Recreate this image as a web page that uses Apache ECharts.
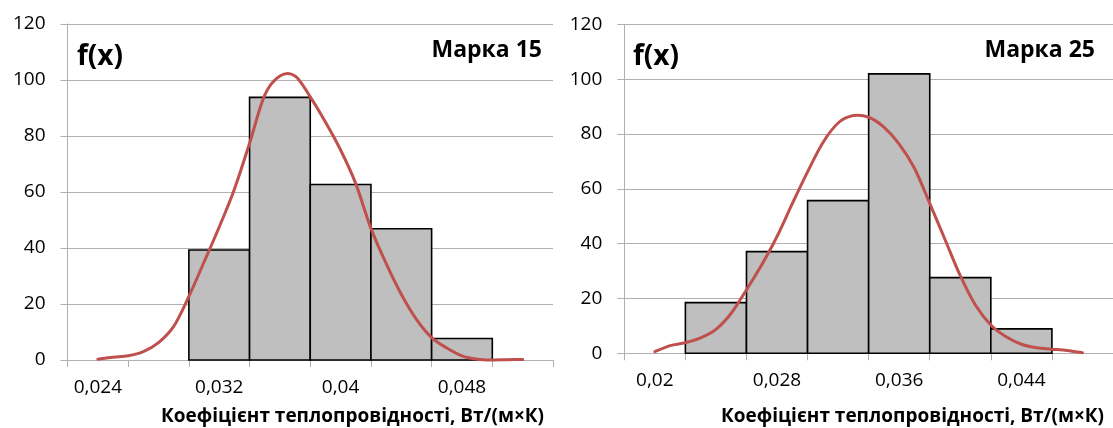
<!DOCTYPE html>
<html>
<head>
<meta charset="utf-8">
<script src="https://cdn.jsdelivr.net/npm/echarts@6/dist/echarts.min.js"></script>
<style>
  html, body { margin: 0; padding: 0; background: #fff; }
  #chart { width: 1113px; height: 428px; }
</style>
</head>
<body>
<div id="chart"></div>
<script>
// Марка 15
const catsLeft = ['0,024', '0,028', '0,032', '0,036', '0,04', '0,044', '0,048', '0,052'];
const barsLeft = [null, null, 39.3, 93.8, 62.7, 46.9, 7.7, null];
const curveLeftX = [0.024, 0.025, 0.026, 0.027, 0.028, 0.029, 0.030, 0.031, 0.032, 0.033,
  0.034, 0.035, 0.036, 0.037, 0.038, 0.039, 0.040, 0.041, 0.042, 0.043,
  0.044, 0.045, 0.046, 0.047, 0.048, 0.049, 0.050, 0.051, 0.052];
const curveLeftY = [0.3, 1.0, 1.5, 3.0, 6.2, 12, 22.7, 35, 47.5, 61,
  77.4, 94.6, 101.4, 101.4, 94, 85, 75, 63, 47, 34.5,
  23.5, 14.5, 8.0, 4.3, 1.5, 0.3, 0, 0.1, 0.2];

// Марка 25
const catsRight = ['0,02', '0,024', '0,028', '0,032', '0,036', '0,04', '0,044', '0,048'];
const barsRight = [null, 18.5, 37.1, 55.7, 101.9, 27.6, 8.9, null];
const curveRightX = [0.020, 0.021, 0.022, 0.023, 0.024, 0.025, 0.026, 0.027, 0.028, 0.029,
  0.030, 0.031, 0.032, 0.033, 0.034, 0.035, 0.036, 0.037, 0.038, 0.039,
  0.040, 0.041, 0.042, 0.043, 0.044, 0.045, 0.046, 0.047, 0.048];
const curveRightY = [0.6, 2.8, 3.9, 5.6, 8.7, 14.6, 23.2, 32.3, 42.6, 54.6,
  66.2, 76.8, 84.0, 86.7, 86.1, 82.5, 76.3, 67.5, 54.7, 41.5,
  28.3, 17.5, 10.3, 6.0, 3.3, 2.0, 1.5, 1.0, 0.2];

const yTicks = { min: 0, max: 120, interval: 20 };
const binWidth = 0.004;
const font = 'Open Sans';
const gray = '#b0b0b0';

const chart = echarts.init(document.getElementById('chart'));

const toNum = (s) => parseFloat(s.replace(',', '.'));

const catAxis = (gridIndex, data) => ({
  type: 'category',
  gridIndex,
  data,
  boundaryGap: true,
  axisLine: { lineStyle: { color: gray, width: 1 } },
  axisTick: { show: true, interval: 0, length: 7, lineStyle: { color: gray } },
  axisLabel: { interval: 1, margin: 18, color: '#000', fontSize: 19, fontFamily: font },
});

// hidden value axis lying exactly under the category axis (half a bin either side)
const hiddenX = (gridIndex, cats) => ({
  type: 'value',
  gridIndex,
  min: toNum(cats[0]) - binWidth / 2,
  max: toNum(cats[cats.length - 1]) + binWidth / 2,
  show: false,
  splitLine: { show: false },
});

const yAxis = (gridIndex) => ({
  type: 'value',
  gridIndex,
  ...yTicks,
  axisLine: { show: true, lineStyle: { color: gray } },
  axisTick: { show: true, length: 7, lineStyle: { color: gray } },
  splitLine: { lineStyle: { color: gray } },
  axisLabel: { margin: 22, color: '#000', fontSize: 19, fontFamily: font },
});

// histogram bins, edge to edge
const bars = (idx, cats, vals) => ({
  type: 'custom',
  xAxisIndex: idx * 2 + 1,
  yAxisIndex: idx,
  data: cats.map((c, i) => [toNum(c), vals[i]]).filter((d) => d[1] != null),
  renderItem: (params, api) => {
    const x = api.value(0);
    const p0 = api.coord([x - binWidth / 2, api.value(1)]);
    const p1 = api.coord([x + binWidth / 2, 0]);
    return {
      type: 'rect',
      shape: { x: p0[0], y: p0[1], width: p1[0] - p0[0], height: p1[1] - p0[1] },
      style: { fill: '#bfbfbf', stroke: '#000', lineWidth: 1.6 },
    };
  },
  z: 2,
});

// smooth density curve (Catmull-Rom through the read points)
const curve = (idx, xs, ys) => ({
  type: 'custom',
  xAxisIndex: idx * 2 + 1,
  yAxisIndex: idx,
  data: xs.map((x, i) => [x, ys[i]]),
  renderItem: (params, api) => {
    if (params.dataIndex !== 0) return null;
    const p = xs.map((x, i) => api.coord([x, ys[i]]));
    const n = p.length;
    let d = `M${p[0][0]},${p[0][1]}`;
    for (let i = 0; i < n - 1; i++) {
      const a = p[Math.max(i - 1, 0)], b = p[i], c = p[i + 1], e = p[Math.min(i + 2, n - 1)];
      const c1 = [b[0] + (c[0] - a[0]) / 6, b[1] + (c[1] - a[1]) / 6];
      const c2 = [c[0] - (e[0] - b[0]) / 6, c[1] - (e[1] - b[1]) / 6];
      d += ` C${c1[0]},${c1[1]} ${c2[0]},${c2[1]} ${c[0]},${c[1]}`;
    }
    return {
      type: 'path',
      shape: { pathData: d },
      style: { fill: null, stroke: '#c0504d', lineWidth: 3, lineCap: 'round' },
    };
  },
  z: 3,
});

const label = (text, x, y, size, align) => ({
  type: 'text',
  x, y,
  style: {
    text, fill: '#000', fontFamily: font, fontWeight: 'bold', fontSize: size,
    align, verticalAlign: 'middle',
  },
  z: 10,
});

chart.setOption({
  animation: false,
  grid: [
    { left: 67.5, top: 24, width: 485.5, height: 336 },
    { left: 624.3, top: 24.3, width: 497.2, height: 329 },
  ],
  xAxis: [
    catAxis(0, catsLeft),
    hiddenX(0, catsLeft),
    catAxis(1, catsRight),
    hiddenX(1, catsRight),
  ],
  yAxis: [yAxis(0), yAxis(1)],
  series: [
    bars(0, catsLeft, barsLeft),
    curve(0, curveLeftX, curveLeftY),
    bars(1, catsRight, barsRight),
    curve(1, curveRightX, curveRightY),
  ],
  graphic: [
    label('f(x)', 77, 57, 28, 'left'),
    label('f(x)', 633, 57, 28, 'left'),
    label('Марка 15', 542, 50, 23, 'right'),
    label('Марка 25', 1095, 50, 23, 'right'),
    label('Коефіцієнт теплопровідності, Вт/(м×К)', 352.5, 417, 19, 'center'),
    label('Коефіцієнт теплопровідності, Вт/(м×К)', 912.5, 417, 19, 'center'),
  ],
});
</script>
</body>
</html>
